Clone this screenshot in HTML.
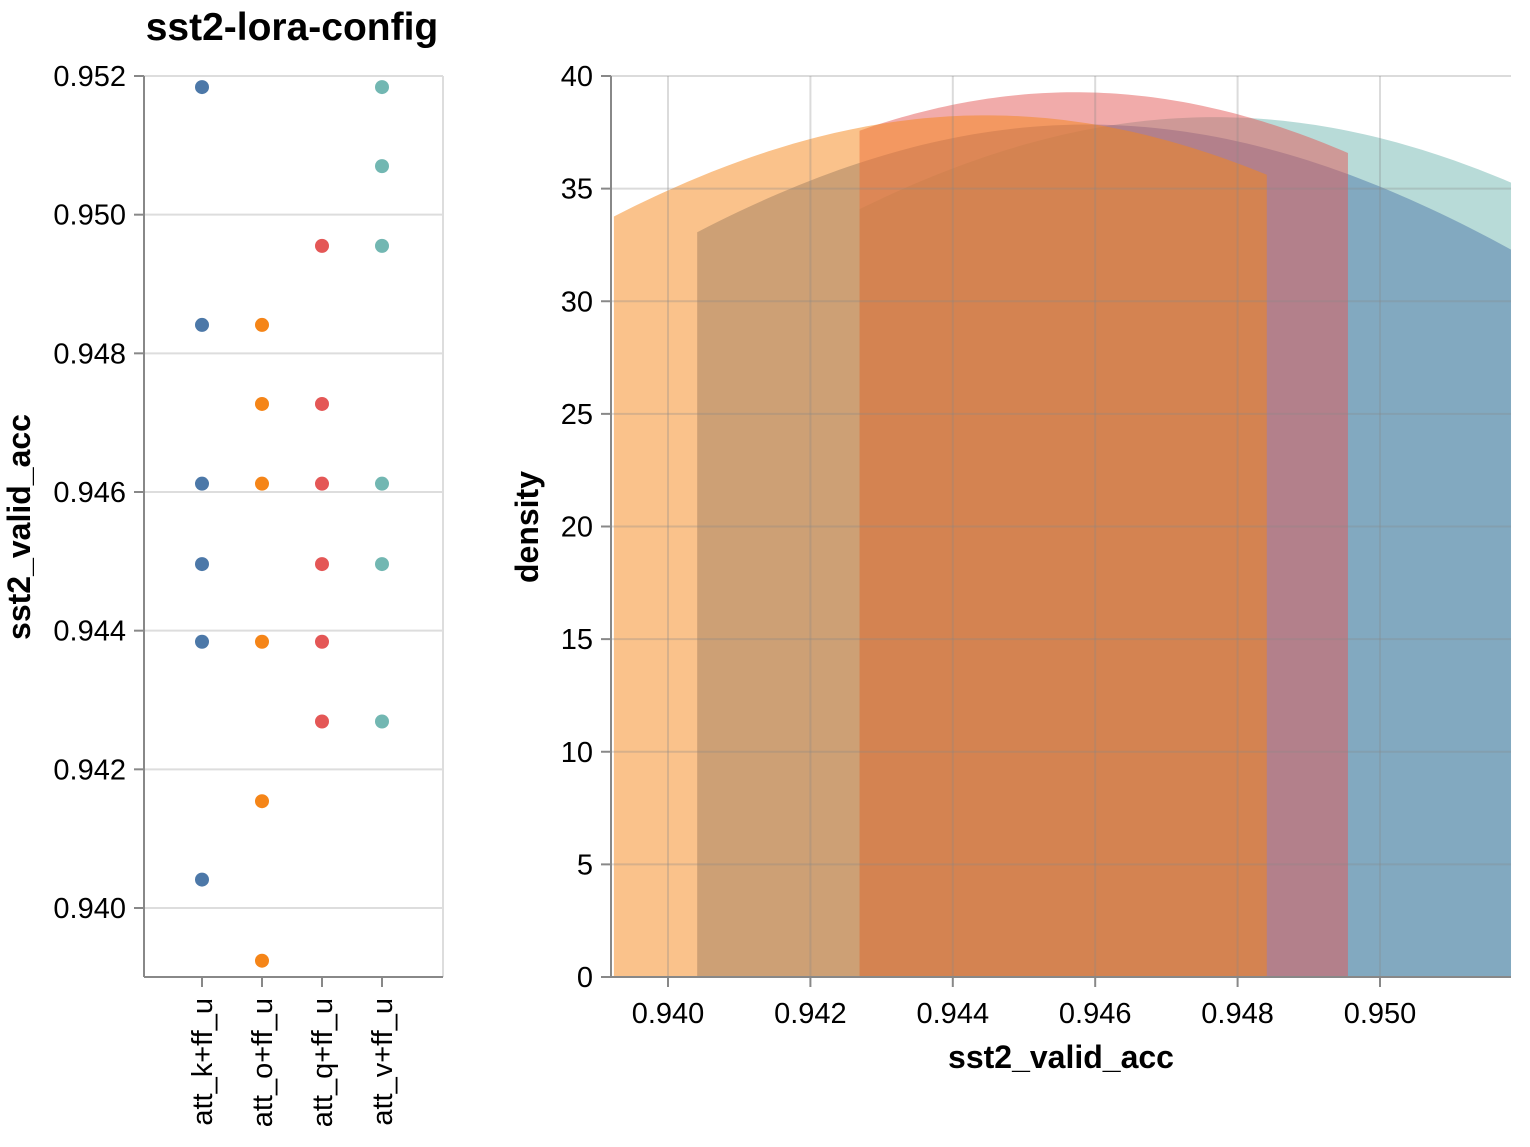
<!DOCTYPE html>
<html><head><meta charset="utf-8">
<style>
html,body{margin:0;padding:0;background:#fff;}
svg text{font-family:"Liberation Sans",Arial,sans-serif;}
</style></head>
<body>
<svg id="chart" width="1530" height="1142" viewBox="0 0 1530 1142" xmlns="http://www.w3.org/2000/svg">
<text x="292" y="40" text-anchor="middle" font-size="39" font-weight="bold" fill="#000">sst2-lora-config</text>
<g id="left"></g>
<g id="right"></g>
</svg>
<script>
const categories = ["att_k+ff_u","att_o+ff_u","att_q+ff_u","att_v+ff_u"];
const colors = ["#4c78a8","#f58518","#e45756","#72b7b2"];
const valsK = [0.95184,0.94841,0.94612,0.94496,0.94384,0.94041];
const valsO = [0.94841,0.94727,0.94612,0.94384,0.94154,0.93924];
const valsQ = [0.94955,0.94727,0.94612,0.94496,0.94384,0.94269];
const valsV = [0.95184,0.9507,0.94955,0.94612,0.94496,0.94269];
const series = [valsK, valsO, valsQ, valsV];
const yTicksLeft = [0.940,0.942,0.944,0.946,0.948,0.950,0.952];
const xTicksRight = [0.940,0.942,0.944,0.946,0.948,0.950];
const densTicks = [0,5,10,15,20,25,30,35,40];
const bandwidth = 0.0099;

const NS = "http://www.w3.org/2000/svg";
function mk(tag, attrs, parent){ const e=document.createElementNS(NS,tag); for(const k in attrs) e.setAttribute(k,attrs[k]); parent.appendChild(e); return e; }
const FS = 29;

// ---------- left strip plot ----------
const L = document.getElementById('left');
const lx0=144, lx1=443, ly0=76, ly1=977;
const yL = v => 908 + (0.940 - v) * (832/0.012);
const xL = i => 202 + i*60;
yTicksLeft.forEach(t=>{
  const y=yL(t);
  const g=mk('line',{x1:lx0,x2:lx1,y1:y,y2:y,stroke:'#ddd','stroke-width':2},L);
  
  
  const tk=mk('line',{x1:lx0-10,x2:lx0,y1:y,y2:y,stroke:'#888','stroke-width':2},L);
  
  
  const tx=mk('text',{x:lx0-18,y:y+10,'text-anchor':'end','font-size':FS,fill:'#000'},L);
  tx.textContent=t.toFixed(3);
  
  
});
mk('line',{x1:lx1,x2:lx1,y1:ly0,y2:ly1,stroke:'#ddd','stroke-width':2,},L);
mk('line',{x1:lx0,x2:lx0,y1:ly0,y2:ly1,stroke:'#888','stroke-width':2,},L);
mk('line',{x1:lx0,x2:lx1,y1:ly1,y2:ly1,stroke:'#888','stroke-width':2,},L);
categories.forEach((c,i)=>{
  const x=xL(i);
  const tk=mk('line',{x1:x,x2:x,y1:ly1,y2:ly1+10,stroke:'#888','stroke-width':2},L);
  
  
  const tx=mk('text',{x:0,y:0,'text-anchor':'end','font-size':FS,fill:'#000',transform:`translate(${x+10},${ly1+21}) rotate(-90)`},L);
  tx.textContent=c;
  
  
  series[i].forEach(v=>{
    const p=mk('circle',{cx:x,cy:yL(v),r:7,fill:colors[i]},L);
    
    
  });
});
mk('text',{x:0,y:0,'text-anchor':'middle','font-size':32,'font-weight':'bold',transform:'translate(30,527) rotate(-90)',},L).textContent='sst2_valid_acc';

// ---------- right density plot ----------
const R = document.getElementById('right');
const rx0=611, rx1=1511, ry0=76, ry1=977;
const xR = v => 668 + (v-0.940)*(712/0.010);
const yR = d => 977 - d*(901/40);
function kde(vals, x){
  let s=0; vals.forEach(v=>{ const z=(x-v)/bandwidth; s+=Math.exp(-0.5*z*z); });
  return s/(vals.length*bandwidth*Math.sqrt(2*Math.PI));
}
const drawOrder=[3,0,2,1];
drawOrder.forEach(i=>{
  const vals=series[i];
  const mn=Math.min(...vals), mx=Math.max(...vals);
  const N=80; let d=`M${Math.max(rx0,xR(mn))},${yR(0)}`;
  for(let k=0;k<=N;k++){ const v=mn+(mx-mn)*k/N; d+=` L${Math.max(rx0,xR(v))},${yR(kde(vals,v))}`; }
  d+=` L${xR(mx)},${yR(0)} Z`;
  const a=mk('path',{d:d,fill:colors[i],'fill-opacity':0.5},R);
  
  
});
densTicks.forEach(t=>{
  const y=yR(t);
  const g=mk('line',{x1:rx0,x2:rx1,y1:y,y2:y,stroke:'#888','stroke-opacity':0.3,'stroke-width':2},R);
  
  
  const tk=mk('line',{x1:rx0-10,x2:rx0,y1:y,y2:y,stroke:'#888','stroke-width':2},R);
  
  
  const tx=mk('text',{x:rx0-18,y:y+10,'text-anchor':'end','font-size':FS,fill:'#000'},R);
  tx.textContent=String(t);
  
  
});
xTicksRight.forEach(t=>{
  const x=xR(t);
  const g=mk('line',{x1:x,x2:x,y1:ry0,y2:ry1,stroke:'#888','stroke-opacity':0.3,'stroke-width':2},R);
  
  
  const tk=mk('line',{x1:x,x2:x,y1:ry1,y2:ry1+10,stroke:'#888','stroke-width':2},R);
  
  
  const tx=mk('text',{x:x,y:ry1+46,'text-anchor':'middle','font-size':FS,fill:'#000'},R);
  tx.textContent=t.toFixed(3);
  
  
});
mk('line',{x1:rx0,x2:rx0,y1:ry0,y2:ry1,stroke:'#888','stroke-width':2,},R);
mk('line',{x1:rx0,x2:rx1,y1:ry1,y2:ry1,stroke:'#888','stroke-width':2,},R);
mk('text',{x:1061,y:1068,'text-anchor':'middle','font-size':32,'font-weight':'bold',},R).textContent='sst2_valid_acc';
mk('text',{x:0,y:0,'text-anchor':'middle','font-size':32,'font-weight':'bold',transform:'translate(538,527) rotate(-90)',},R).textContent='density';
</script>
</body></html>
